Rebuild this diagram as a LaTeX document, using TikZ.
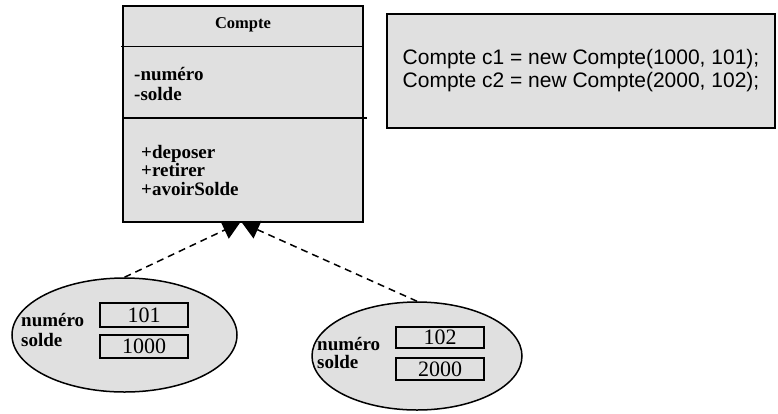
\documentclass[tikz,border=0pt]{standalone}
\usepackage{fontspec}
\setmainfont{Liberation Serif}
\newfontfamily\codefont{Liberation Sans}
\usetikzlibrary{arrows.meta,shapes.geometric}
\begin{document}
\begin{tikzpicture}
    [x=1pt,y=-1pt,
     inst/.style={-{Triangle[width=19pt,length=17pt]},line width=1.5pt,dash pattern=on 7pt off 5pt},
     gris/.style={draw=black,line width=1.5pt,fill=black!12},
     slot/.style={shape=rectangle,gris,minimum width=88pt,inner sep=0pt,font=\fontsize{22}{22}\selectfont},
     champ/.style={anchor=west,align=left,inner sep=0pt,font=\bfseries\fontsize{19}{20}\selectfont}]
  \useasboundingbox (0,0) rectangle (778,413);
  % classe
  \node [shape=rectangle,gris,minimum width=240pt,minimum height=216pt] (compte) at (243,114) {};
  \draw [line width=1.5pt] (121,46.5) -- (compte.east |- 0,46.5);
  \draw [line width=1.5pt] (compte.west |- 0,118) -- (367,118);
  \node [font=\bfseries\fontsize{16.5}{16.5}\selectfont] (nom) at (243,25) {Compte};
  \node [champ] (attr) at (134,84) {-numéro\\-solde};
  \node [champ,font=\bfseries\fontsize{19}{18.5}\selectfont] (meth) at (141,170) {+deposer\\+retirer\\+avoirSolde};
  % code
  \node [shape=rectangle,gris,minimum width=388pt,minimum height=114pt,align=left,
         font=\codefont\fontsize{21}{23}\selectfont] (code) at (581,71)
    {Compte c1 = new Compte(1000, 101);\\Compte c2 = new Compte(2000, 102);};
  % objets
  \node [shape=ellipse,gris,minimum width=225pt,minimum height=114pt] (c1) at (124.5,335) {};
  \node [champ] (lab1) at (21,330) {numéro\\solde};
  \node [slot,minimum height=24pt] (num1) at (144,315) {101};
  \node [slot,minimum height=23pt] (sol1) at (144,346.5) {1000};
  \node [shape=ellipse,gris,minimum width=210pt,minimum height=108pt] (c2) at (417,356) {};
  \node [champ,font=\bfseries\fontsize{19}{18}\selectfont] (lab2) at (317,353) {numéro\\solde};
  \node [slot,minimum height=21pt] (num2) at (440,337.5) {102};
  \node [slot,minimum height=22pt] (sol2) at (440,369) {2000};
  % instanciation
  \draw [inst] (c1.north) -- ([xshift=-3pt]compte.south);
  \draw [inst] (c2.north) -- ([xshift=-1pt]compte.south);
\end{tikzpicture}
\end{document}
